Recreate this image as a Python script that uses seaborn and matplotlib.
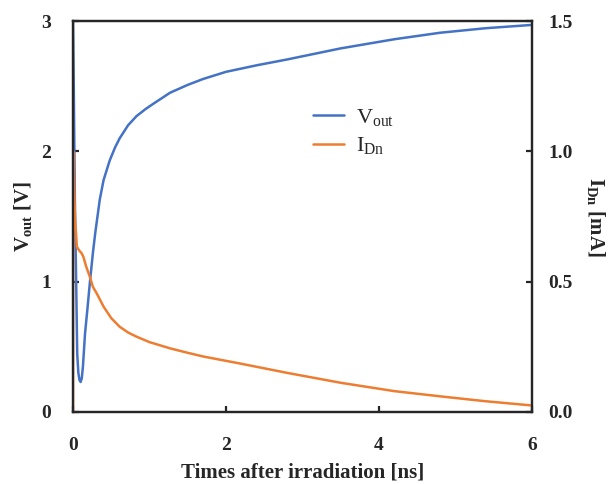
import numpy as np
import pandas as pd
import matplotlib
matplotlib.use("Agg")
import matplotlib.pyplot as plt
import seaborn as sns

# datos
t_vout = [0, 0.01, 0.025, 0.04, 0.055, 0.07, 0.085, 0.1, 0.115, 0.13, 0.157, 0.19,
          0.22, 0.26, 0.29, 0.35, 0.4, 0.48, 0.55, 0.61, 0.72, 0.83, 0.95, 1.05, 1.27,
          1.5, 1.7, 2.0, 2.4, 2.8, 3.5, 4.2, 4.8, 5.4, 6.0]
vout = [3.0, 2.5, 1.6, 1.05, 0.45, 0.3, 0.245, 0.23, 0.26, 0.35, 0.6, 0.8,
        0.99, 1.22, 1.37, 1.63, 1.78, 1.93, 2.03, 2.1, 2.2, 2.27, 2.325, 2.365, 2.45,
        2.51, 2.555, 2.61, 2.66, 2.705, 2.79, 2.86, 2.91, 2.945, 2.97]

t_idn = [0, 0.003, 0.01, 0.02, 0.03, 0.04, 0.05, 0.08, 0.11, 0.135, 0.17, 0.22,
         0.26, 0.31, 0.4, 0.5, 0.61, 0.72, 0.83, 1.0, 1.27, 1.5, 1.7, 2.2, 2.8, 3.5,
         4.2, 4.8, 5.4, 6.0]
idn = [0.0, 1.0, 0.93, 0.8, 0.72, 0.685, 0.634, 0.62, 0.61, 0.596, 0.56, 0.519,
       0.48, 0.455, 0.404, 0.36, 0.327, 0.305, 0.289, 0.268, 0.244, 0.227, 0.213, 0.185, 0.15,
       0.112, 0.08, 0.06, 0.041, 0.025]

df_v = pd.DataFrame({"t": t_vout, "v": vout})
df_i = pd.DataFrame({"t": t_idn, "i": idn})

sns.set_style("ticks")
plt.rcParams["font.family"] = ["Liberation Serif", "DejaVu Serif"]
plt.rcParams["mathtext.fontset"] = "custom"
plt.rcParams["mathtext.rm"] = "Liberation Serif"
plt.rcParams["mathtext.bf"] = "Liberation Serif:bold"
plt.rcParams["axes.linewidth"] = 1.6

azul = "#4472C4"
laranja = "#ED7D31"

fig = plt.figure(figsize=(6.15, 4.84), dpi=100)
ax = fig.add_axes([0.1187, 0.1488, 0.7463, 0.8078])
ax2 = ax.twinx()

sns.lineplot(data=df_v, x="t", y="v", ax=ax, color=azul, linewidth=1.8, label=r"V$_{\mathrm{out}}$", legend=False)
sns.lineplot(data=df_i, x="t", y="i", ax=ax2, color=laranja, linewidth=1.8, label=r"I$_{\mathrm{Dn}}$", legend=False)

ax.set_xlim(0, 6)
ax.set_ylim(0, 3)
ax2.set_ylim(0, 1.5)
ax.set_xticks([0, 2, 4, 6])
ax.set_yticks([0, 1, 2, 3])
ax2.set_yticks([0, 0.5, 1.0, 1.5])
ax2.set_yticklabels(["0.0", "0.5", "1.0", "1.5"])

for a in (ax, ax2):
    a.tick_params(direction="in", length=4, width=1.6, labelsize=14)
    for lab in a.get_xticklabels() + a.get_yticklabels():
        lab.set_fontweight("bold")
    for s in a.spines.values():
        s.set_visible(True)
        s.set_linewidth(1.6)
ax.tick_params(axis="y", pad=16)
ax.tick_params(axis="x", pad=18)
ax2.tick_params(axis="y", pad=12)

ax.set_xlabel("Times after irradiation [ns]", fontsize=15, fontweight="bold", labelpad=6)
ax.set_ylabel(r"V$_{\mathbf{out}}$ [V]", fontsize=15, fontweight="bold", labelpad=4)
ax2.set_ylabel(r"I$_{\mathbf{Dn}}$ [mA]", fontsize=15, fontweight="bold", rotation=270, labelpad=24)

h1, l1 = ax.get_legend_handles_labels()
h2, l2 = ax2.get_legend_handles_labels()
ax2.legend(h1 + h2, l1 + l2, loc="upper left", bbox_to_anchor=(0.523, 0.78), frameon=False,
           fontsize=16, handlelength=1.4, handletextpad=0.55, labelspacing=0.3,
           borderpad=0, borderaxespad=0)

fig.savefig("out.png", dpi=100)
